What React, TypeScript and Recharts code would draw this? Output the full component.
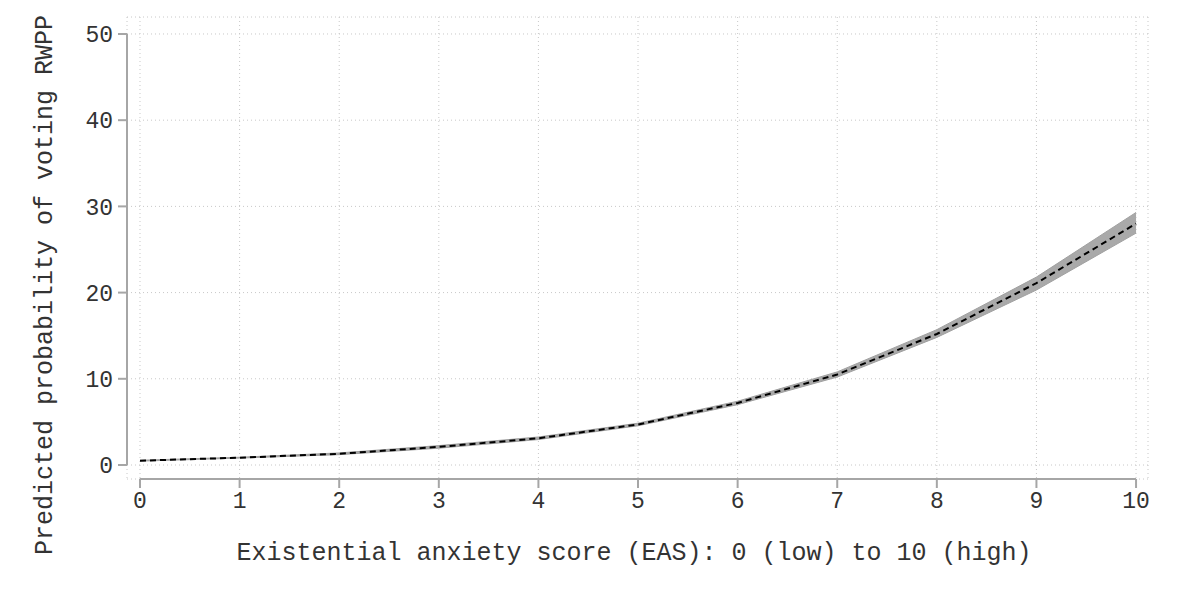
import React from 'react';
import { ComposedChart, Line, Area, XAxis, YAxis, CartesianGrid, ReferenceLine } from 'recharts';

const easScores = [0, 1, 2, 3, 4, 5, 6, 7, 8, 9, 10];
const predicted = [0.5, 0.85, 1.3, 2.1, 3.1, 4.7, 7.2, 10.5, 15.2, 21.1, 28.0];
const ciLower = [0.45, 0.8, 1.2, 1.95, 2.95, 4.55, 7.0, 10.2, 14.8, 20.3, 26.9];
const ciUpper = [0.55, 0.9, 1.4, 2.25, 3.25, 4.85, 7.4, 10.8, 15.7, 21.8, 29.3];
const xTicks = [0, 1, 2, 3, 4, 5, 6, 7, 8, 9, 10];
const yTicks = [0, 10, 20, 30, 40, 50];
const xTitle = 'Existential anxiety score (EAS): 0 (low) to 10 (high)';
const yTitle = 'Predicted probability of voting RWPP';

const data = easScores.map((x, i) => ({ x, p: predicted[i], ci: [ciLower[i], ciUpper[i]] }));

const X_MIN = -0.1305;
const X_MAX = 10.12;
const Y_MIN = -1.624;
const Y_MAX = 51.97;

const FONT = '"Liberation Mono", "DejaVu Sans Mono", monospace';
const AXIS_COLOR = '#a6a6a6';
const TEXT_COLOR = '#333333';

export default function App() {
  return (
    <div style={{ position: 'absolute', left: 0, top: 0, width: 1200, height: 594, background: '#fff', fontFamily: FONT }}>
      <ComposedChart
        width={1200}
        height={594}
        data={data}
        margin={{ top: 17, right: 52, left: 67, bottom: 75 }}
      >
        <CartesianGrid stroke="#c8c8c8" strokeDasharray="1 3" strokeWidth={1} />
        <XAxis
          dataKey="x"
          type="number"
          domain={[X_MIN, X_MAX]}
          ticks={xTicks}
          allowDataOverflow
          height={40}
          axisLine={false}
          tickLine={{ stroke: AXIS_COLOR, strokeWidth: 2 }}
          tickSize={9}
          tickMargin={4}
          tick={{ fill: TEXT_COLOR, fontSize: 23, fontFamily: FONT }}
        />
        <YAxis
          type="number"
          domain={[Y_MIN, Y_MAX]}
          ticks={yTicks}
          allowDataOverflow
          width={60}
          axisLine={false}
          tickLine={{ stroke: AXIS_COLOR, strokeWidth: 2 }}
          tickSize={9}
          tickMargin={5}
          tick={{ fill: TEXT_COLOR, fontSize: 23, fontFamily: FONT }}
        />
        <ReferenceLine
          segment={[{ x: X_MIN, y: 0 }, { x: X_MIN, y: 50 }]}
          stroke={AXIS_COLOR}
          strokeWidth={2}
          ifOverflow="visible"
        />
        <ReferenceLine
          segment={[{ x: 0, y: Y_MIN }, { x: 10, y: Y_MIN }]}
          stroke={AXIS_COLOR}
          strokeWidth={2}
          ifOverflow="visible"
        />
        <Area
          dataKey="ci"
          type="linear"
          fill="#a9a9a9"
          fillOpacity={1}
          stroke="#a0a0a0"
          strokeWidth={1}
          isAnimationActive={false}
          activeDot={false}
        />
        <Line
          dataKey="p"
          type="linear"
          stroke="#000"
          strokeWidth={2}
          strokeDasharray="6 4"
          dot={false}
          activeDot={false}
          isAnimationActive={false}
        />
      </ComposedChart>
      <div
        style={{
          position: 'absolute',
          left: 0,
          width: 1268,
          top: 539,
          textAlign: 'center',
          fontSize: 25,
          color: TEXT_COLOR,
          fontFamily: FONT,
          whiteSpace: 'nowrap',
        }}
      >
        {xTitle}
      </div>
      <div
        style={{
          position: 'absolute',
          left: 45,
          top: 285,
          transform: 'translate(-50%, -50%) rotate(-90deg)',
          fontSize: 25,
          color: TEXT_COLOR,
          fontFamily: FONT,
          whiteSpace: 'nowrap',
        }}
      >
        {yTitle}
      </div>
    </div>
  );
}
